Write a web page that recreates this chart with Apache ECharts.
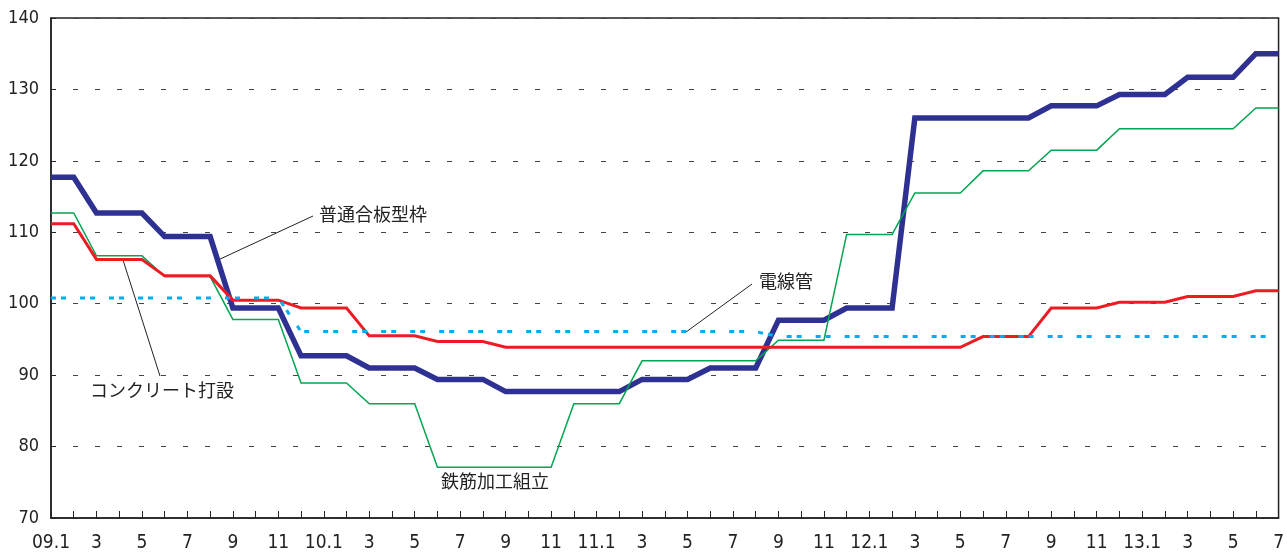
<!DOCTYPE html>
<html>
<head>
<meta charset="utf-8">
<script src="https://cdn.jsdelivr.net/npm/echarts@6/dist/echarts.min.js"></script>
<style>
  html, body { margin: 0; padding: 0; background: #fff; }
  #main { width: 1287px; height: 553px; }
</style>
</head>
<body>
<div id="main"></div>
<script>
// months 2009.1 - 2013.7
var months = [
  '09.1','2','3','4','5','6','7','8','9','10','11','12',
  '10.1','2','3','4','5','6','7','8','9','10','11','12',
  '11.1','2','3','4','5','6','7','8','9','10','11','12',
  '12.1','2','3','4','5','6','7','8','9','10','11','12',
  '13.1','2','3','4','5','6','7'
];

// 普通合板型枠
var kataWaku = [
  117.7, 117.7, 112.7, 112.7, 112.7, 109.4, 109.4, 109.4, 99.4, 99.4, 99.4, 92.7,
  92.7, 92.7, 91.0, 91.0, 91.0, 89.4, 89.4, 89.4, 87.7, 87.7, 87.7, 87.7,
  87.7, 87.7, 89.4, 89.4, 89.4, 91.0, 91.0, 91.0, 97.7, 97.7, 97.7, 99.4,
  99.4, 99.4, 126.0, 126.0, 126.0, 126.0, 126.0, 126.0, 127.7, 127.7, 127.7, 129.3,
  129.3, 129.3, 131.7, 131.7, 131.7, 135.0, 135.0
];

// 鉄筋加工組立
var tekkin = [
  112.7, 112.7, 106.7, 106.7, 106.7, 103.8, 103.8, 103.8, 97.8, 97.8, 97.8, 88.9,
  88.9, 88.9, 86.0, 86.0, 86.0, 77.1, 77.1, 77.1, 77.1, 77.1, 77.1, 86.0,
  86.0, 86.0, 92.0, 92.0, 92.0, 92.0, 92.0, 92.0, 94.9, 94.9, 94.9, 109.7,
  109.7, 109.7, 115.5, 115.5, 115.5, 118.6, 118.6, 118.6, 121.5, 121.5, 121.5, 124.5,
  124.5, 124.5, 124.5, 124.5, 124.5, 127.4, 127.4
];

// コンクリート打設
var concrete = [
  111.2, 111.2, 106.2, 106.2, 106.2, 103.9, 103.9, 103.9, 100.5, 100.5, 100.5, 99.4,
  99.4, 99.4, 95.5, 95.5, 95.5, 94.7, 94.7, 94.7, 93.9, 93.9, 93.9, 93.9,
  93.9, 93.9, 93.9, 93.9, 93.9, 93.9, 93.9, 93.9, 93.9, 93.9, 93.9, 93.9,
  93.9, 93.9, 93.9, 93.9, 93.9, 95.4, 95.4, 95.4, 99.4, 99.4, 99.4, 100.2,
  100.2, 100.2, 101.0, 101.0, 101.0, 101.8, 101.8
];

// 電線管
var densenkan = [
  100.8, 100.8, 100.8, 100.8, 100.8, 100.8, 100.8, 100.8, 100.8, 100.8, 100.8, 96.1,
  96.1, 96.1, 96.1, 96.1, 96.1, 96.1, 96.1, 96.1, 96.1, 96.1, 96.1, 96.1,
  96.1, 96.1, 96.1, 96.1, 96.1, 96.1, 96.1, 96.1, 95.4, 95.4, 95.4, 95.4,
  95.4, 95.4, 95.4, 95.4, 95.4, 95.4, 95.4, 95.4, 95.4, 95.4, 95.4, 95.4,
  95.4, 95.4, 95.4, 95.4, 95.4, 95.4, 95.4
];

var axisFont = '"Liberation Sans Narrow", "DejaVu Sans Condensed", "Liberation Sans", sans-serif';
var jpFont = '"Noto Sans CJK JP", sans-serif';

var myChart = echarts.init(document.getElementById('main'));

function lineSeries(name, data, color, width, type) {
  return {
    name: name,
    type: 'line',
    data: data,
    symbol: 'none',
    animation: false,
    lineStyle: { color: color, width: width, type: type || 'solid', cap: 'butt', join: 'miter' }
  };
}

var option = {
  backgroundColor: '#fff',
  animation: false,
  grid: {
    left: 51, right: 4, top: 18, bottom: 35,
    show: true,
    borderColor: '#222',
    borderWidth: 1.5
  },
  xAxis: {
    type: 'category',
    data: months,
    boundaryGap: false,
    axisLine: { lineStyle: { color: '#222', width: 1.5 } },
    axisTick: { inside: true, length: 7, interval: 0, lineStyle: { color: '#222', width: 1 } },
    axisLabel: {
      interval: 1,
      margin: 16,
      fontSize: 19,
      color: '#222',
      fontFamily: axisFont
    },
    splitLine: { show: false }
  },
  yAxis: {
    type: 'value',
    min: 70,
    max: 140,
    interval: 10,
    axisLine: { show: true, lineStyle: { color: '#222', width: 1.5 } },
    axisTick: { show: true, inside: true, length: 5, lineStyle: { color: '#222' } },
    axisLabel: { fontSize: 18, color: '#222', margin: 12, fontFamily: axisFont },
    splitLine: { show: true, lineStyle: { color: '#444', width: 1, type: [5, 17] } }
  },
  series: [
    lineSeries('普通合板型枠', kataWaku, '#2e3192', 5.5),
    lineSeries('鉄筋加工組立', tekkin, '#00a651', 1.5),
    lineSeries('コンクリート打設', concrete, '#ed1c24', 3),
    lineSeries('電線管', densenkan, '#00aeef', 3, [5, 5, 5, 14])
  ],
  graphic: [
    // leader lines
    { type: 'line', shape: { x1: 313, y1: 216, x2: 218, y2: 260 }, style: { stroke: '#222', lineWidth: 1 } },
    { type: 'line', shape: { x1: 123, y1: 260, x2: 160, y2: 376 }, style: { stroke: '#222', lineWidth: 1 } },
    { type: 'line', shape: { x1: 752, y1: 284, x2: 686, y2: 332 }, style: { stroke: '#222', lineWidth: 1 } },
    // labels
    { type: 'text', left: 319, top: 205, style: { text: '普通合板型枠', font: '18px ' + jpFont, fill: '#222' } },
    { type: 'text', left: 90, top: 381, style: { text: 'コンクリート打設', font: '18px ' + jpFont, fill: '#222' } },
    { type: 'text', left: 759, top: 272, style: { text: '電線管', font: '18px ' + jpFont, fill: '#222' } },
    { type: 'text', left: 441, top: 472, style: { text: '鉄筋加工組立', font: '18px ' + jpFont, fill: '#222' } }
  ]
};

myChart.setOption(option);
</script>
</body>
</html>
